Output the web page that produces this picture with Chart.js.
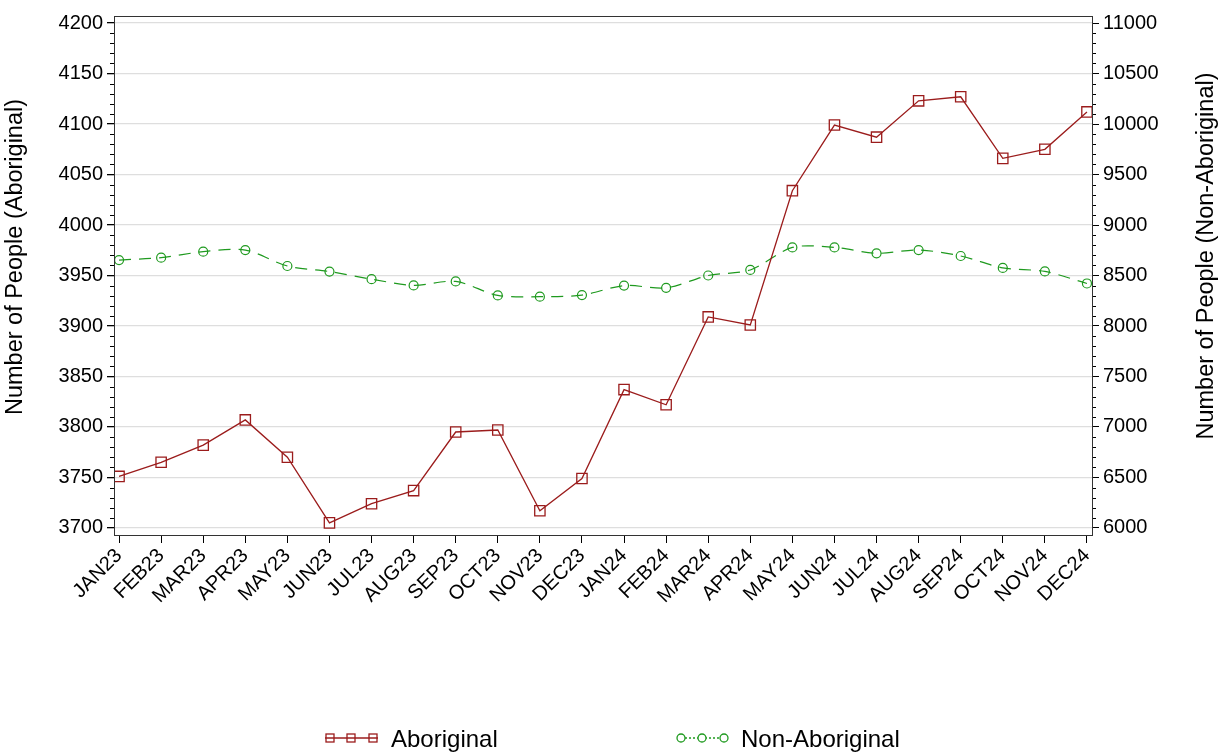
<!DOCTYPE html>
<html>
<head>
<meta charset="utf-8">
<title>Number of People</title>
<script src="https://cdn.jsdelivr.net/npm/chart.js@4.4.1/dist/chart.umd.min.js"></script>
<style>
  html, body { margin: 0; padding: 0; background: #fff; }
</style>
</head>
<body>
<canvas id="grafico" width="1224" height="755"></canvas>
<script>
// datos
const meses = ["JAN23", "FEB23", "MAR23", "APR23", "MAY23", "JUN23", "JUL23", "AUG23", "SEP23", "OCT23", "NOV23", "DEC23",
  "JAN24", "FEB24", "MAR24", "APR24", "MAY24", "JUN24", "JUL24", "AUG24", "SEP24", "OCT24", "NOV24", "DEC24"];
const aborigen = [3751, 3765, 3782, 3807, 3770, 3705, 3724, 3737, 3795, 3797, 3717, 3749,
  3837, 3822, 3909, 3901, 4034, 4099, 4087, 4123, 4127, 4066, 4075, 4112];
const noAborigen = [8653, 8677, 8736, 8752, 8594, 8539, 8464, 8402, 8441, 8303, 8290, 8306,
  8400, 8378, 8500, 8555, 8778, 8778, 8720, 8752, 8693, 8575, 8540, 8421];
const ticksIzq = [3700, 3750, 3800, 3850, 3900, 3950, 4000, 4050, 4100, 4150, 4200];
const ticksDer = [6000, 6500, 7000, 7500, 8000, 8500, 9000, 9500, 10000, 10500, 11000];

const rojo = "#9b1c1c";
const verde = "#1f9a1f";
const fuente = "'Liberation Sans', Arial, sans-serif";

// ticks menores, marco, titulos de ejes y leyenda
const extras = {
  id: "extras",
  afterDraw(chart) {
    const ctx = chart.ctx;
    const area = chart.chartArea;
    const yIzq = chart.scales.y;
    const yDer = chart.scales.y2;
    ctx.save();
    ctx.strokeStyle = "#000";
    ctx.lineWidth = 1;
    ctx.beginPath();
    for (let v = ticksIzq[0]; v <= ticksIzq[ticksIzq.length - 1]; v += 10) {
      if (ticksIzq.includes(v)) continue;
      const py = Math.round(yIzq.getPixelForValue(v)) + 0.5;
      ctx.moveTo(area.left - 4, py);
      ctx.lineTo(area.left, py);
    }
    for (let v = ticksDer[0]; v <= ticksDer[ticksDer.length - 1]; v += 100) {
      if (ticksDer.includes(v)) continue;
      const py = Math.round(yDer.getPixelForValue(v)) + 0.5;
      ctx.moveTo(area.right, py);
      ctx.lineTo(area.right + 4, py);
    }
    ctx.stroke();
    // marco del area del grafico
    ctx.strokeStyle = "#333";
    ctx.strokeRect(Math.round(area.left) + 0.5, Math.round(area.top) + 0.5,
      Math.round(area.right - area.left), Math.round(area.bottom - area.top));

    // titulos de los ejes (ambos de abajo hacia arriba)
    ctx.fillStyle = "#000";
    ctx.font = "23.5px " + fuente;
    ctx.textAlign = "center";
    ctx.textBaseline = "middle";
    ctx.save();
    ctx.translate(16, 257);
    ctx.rotate(-Math.PI / 2);
    ctx.fillText("Number of People (Aboriginal)", 0, 0);
    ctx.restore();
    ctx.save();
    ctx.translate(1207, 256);
    ctx.rotate(-Math.PI / 2);
    ctx.fillText("Number of People (Non-Aboriginal)", 0, 0);
    ctx.restore();

    // leyenda
    const yLey = 738;
    ctx.lineWidth = 1.3;
    ctx.strokeStyle = rojo;
    ctx.beginPath();
    ctx.moveTo(325, yLey);
    ctx.lineTo(378, yLey);
    ctx.stroke();
    [330, 351, 373].forEach((px) => ctx.strokeRect(px - 4, yLey - 4, 8, 8));
    ctx.strokeStyle = verde;
    ctx.setLineDash([2, 2]);
    ctx.beginPath();
    ctx.moveTo(677, yLey);
    ctx.lineTo(728, yLey);
    ctx.stroke();
    ctx.setLineDash([]);
    [681, 702, 724].forEach((px) => {
      ctx.beginPath();
      ctx.arc(px, yLey, 4, 0, Math.PI * 2);
      ctx.fillStyle = "#fff";
      ctx.fill();
      ctx.stroke();
    });
    ctx.fillStyle = "#000";
    ctx.font = "24px " + fuente;
    ctx.textAlign = "left";
    ctx.fillText(chart.data.datasets[0].label, 391, yLey + 2);
    ctx.fillText(chart.data.datasets[1].label, 741, yLey + 2);
    ctx.restore();
  }
};

const config = {
  type: "line",
  data: {
    datasets: [
      {
        label: "Aboriginal",
        data: meses.map((m, i) => ({ x: i, y: aborigen[i] })),
        yAxisID: "y",
        borderColor: rojo,
        backgroundColor: "transparent",
        borderWidth: 1.3,
        pointStyle: "rect",
        pointRadius: 7.3,
        pointBorderWidth: 1.3,
        pointBorderColor: rojo,
        pointBackgroundColor: "transparent",
        tension: 0
      },
      {
        label: "Non-Aboriginal",
        data: meses.map((m, i) => ({ x: i, y: noAborigen[i] })),
        yAxisID: "y2",
        borderColor: verde,
        backgroundColor: "transparent",
        borderWidth: 1.2,
        borderDash: [12, 8],
        pointStyle: "circle",
        pointRadius: 4.5,
        pointBorderWidth: 1.2,
        pointBorderColor: verde,
        pointBackgroundColor: "transparent",
        tension: 0.3
      }
    ]
  },
  options: {
    responsive: false,
    animation: false,
    layout: { padding: { top: 13, left: 0, right: 0, bottom: 0 } },
    plugins: { legend: { display: false }, tooltip: { enabled: false } },
    scales: {
      x: {
        type: "linear",
        min: -0.12,
        max: 23.12,
        afterBuildTicks: (s) => { s.ticks = meses.map((m, i) => ({ value: i })); },
        afterFit: (s) => { s.height = 220; },
        ticks: {
          autoSkip: false,
          maxRotation: 45,
          minRotation: 45,
          padding: 1,
          color: "#000",
          font: { family: fuente, size: 20 },
          callback: (v, i) => meses[i]
        },
        grid: { drawOnChartArea: false, tickLength: 8, color: "#000" },
        border: { color: "#333" }
      },
      y: {
        position: "left",
        min: 3693,
        max: 4207,
        afterBuildTicks: (s) => { s.ticks = ticksIzq.map((v) => ({ value: v })); },
        afterFit: (s) => { s.width = 114; },
        ticks: { color: "#000", padding: 4, font: { family: fuente, size: 20 }, callback: (v) => String(v) },
        grid: { color: "#dedede", tickColor: "#000", tickLength: 7, lineWidth: 1.3 },
        border: { color: "#333" }
      },
      y2: {
        position: "right",
        min: 5930,
        max: 11070,
        afterBuildTicks: (s) => { s.ticks = ticksDer.map((v) => ({ value: v })); },
        afterFit: (s) => { s.width = 132; },
        ticks: { color: "#000", padding: 4, font: { family: fuente, size: 20 }, callback: (v) => String(v) },
        grid: { drawOnChartArea: false, color: "#000", tickLength: 7 },
        border: { color: "#333" }
      }
    }
  },
  plugins: [extras]
};

new Chart(document.getElementById("grafico").getContext("2d"), config);
</script>
</body>
</html>
